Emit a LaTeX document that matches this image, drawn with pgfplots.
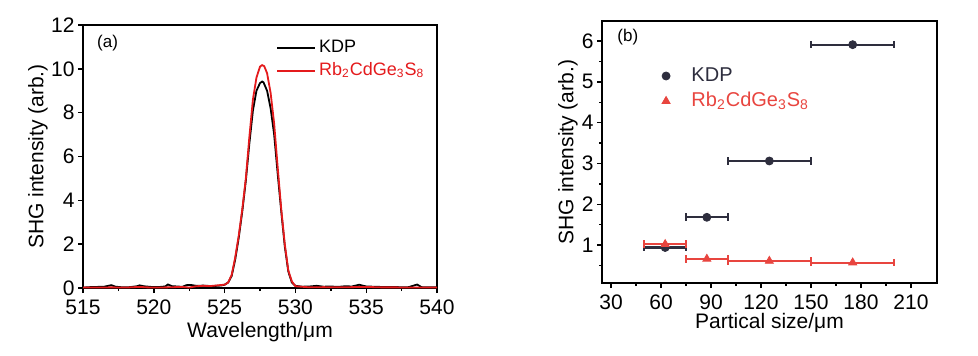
\documentclass[border=0pt]{standalone}
\usepackage{fontspec}
\setmainfont{Liberation Sans}
\usepackage{pgfplots}
\pgfplotsset{compat=1.18}
\definecolor{kdpL}{HTML}{000000}
\definecolor{rbL}{HTML}{E41A1C}
\definecolor{kdpR}{HTML}{2E2E3E}
\definecolor{rbR}{HTML}{E8453F}
\pgfplotsset{
  common/.style={
    scale only axis,
    axis line style={line width=0.9pt},
    tick pos=left, tick align=outside,
    major tick length=2.5pt, minor tick length=1.5pt,
    every tick/.style={line width=0.7pt, black},
    tick label style={font=\fontsize{10.5}{12}\selectfont},
    yticklabel style={inner sep=1.5pt},
    label style={font=\fontsize{10.5}{12}\selectfont},
    /pgf/number format/assume math mode=true,
  },
  kbar/.style={kdpR, line width=1.1pt, mark=|, mark size=1.9pt, mark options={line width=1.1pt}, forget plot},
  rbar/.style={rbR, line width=1.1pt, mark=|, mark size=1.9pt, mark options={line width=1.1pt}, forget plot},
}
\begin{document}
\begin{tikzpicture}
\useasboundingbox (0,0) rectangle (489pt,177.5pt);
% ---------------- (a)
\begin{axis}[common,
  at={(41.5pt,33.5pt)}, anchor=south west,
  width=177pt, height=131.5pt,
  xmin=515, xmax=540, ymin=0, ymax=12,
  xtick={515,520,...,540}, minor xtick={517.5,522.5,...,537.5},
  ytick={0,2,...,12},
  xlabel={Wavelength/μm}, ylabel={SHG intensity (arb.)},
  xlabel style={at={(axis description cs:0.5,-0.167)}, anchor=center},
  ylabel style={at={(axis description cs:-0.127,0.5)}, anchor=center},
  legend style={at={(axis description cs:0.545,0.955)}, anchor=north west,
    draw=none, fill=none, inner sep=0pt, row sep=0.5pt,
    font=\fontsize{9}{10}\selectfont, nodes={inner sep=1.5pt}},
  legend cell align=left,
  legend image code/.code={\draw[#1] (0pt,0pt) -- (19pt,0pt);},
]
\addplot[kdpL, line width=0.9pt] coordinates {
(515,0.02)(515.5,0.04)(516,0.05)(516.5,0.06)(517,0.13)(517.3,0.06)(517.8,0.03)(518.3,0.04)(518.8,0.08)(519,0.12)(519.3,0.08)(519.8,0.05)(520.3,0.04)(520.8,0.07)(521,0.16)(521.3,0.08)(521.7,0.07)(522,0.05)(522.3,0.13)(522.6,0.14)(523,0.1)(523.5,0.11)(524,0.09)(524.5,0.1)(524.8,0.12)
(525,0.15)(525.25,0.25)(525.5,0.55)(525.75,1.3)(526,2.3)(526.25,3.5)(526.5,4.9)(526.75,6.6)(527,8.1)(527.25,9.0)(527.5,9.35)(527.65,9.42)(527.75,9.38)(528,9.0)(528.25,8.2)(528.5,7.0)(528.75,5.2)(529,3.5)(529.25,1.9)(529.5,0.75)(529.75,0.25)
(530,0.1)(530.5,0.06)(531,0.07)(531.5,0.1)(532,0.06)(532.5,0.07)(533,0.05)(533.5,0.08)(534,0.07)(534.5,0.15)(535,0.07)(535.5,0.06)(536,0.05)(536.5,0.04)(537,0.05)(537.5,0.03)(538,0.04)(538.6,0.16)(538.9,0.04)(539.5,0.03)(540,0.04)
};
\addlegendentry{KDP}
\addplot[rbL, line width=0.9pt] coordinates {
(515,0.02)(516,0.02)(517,0.03)(518,0.02)(519,0.05)(519.5,0.03)(520,0.02)(521,0.03)(522,0.05)(522.5,0.02)(523,0.08)(523.5,0.1)(524,0.09)(524.5,0.12)(524.8,0.14)
(525,0.15)(525.25,0.25)(525.5,0.6)(525.75,1.4)(526,2.4)(526.25,3.6)(526.5,5.0)(526.75,6.9)(527,8.6)(527.25,9.6)(527.5,10.1)(527.65,10.17)(527.8,10.12)(528,9.8)(528.25,8.9)(528.5,7.5)(528.75,5.5)(529,3.6)(529.25,2.0)(529.5,0.8)(529.75,0.3)
(530,0.08)(531,0.03)(532,0.04)(533,0.03)(534,0.04)(535,0.05)(536,0.03)(537,0.03)(538,0.02)(539,0.02)(540,0.02)
};
\addlegendentry{\textcolor{rbL}{Rb\textsubscript{2}CdGe\textsubscript{3}S\textsubscript{8}}}
\node[anchor=west, font=\fontsize{8.5}{10}\selectfont] at (axis description cs:0.02,0.93) {(a)};
\end{axis}
% ---------------- (b)
\begin{axis}[common,
  at={(301pt,36pt)}, anchor=south west,
  width=167.5pt, height=131pt,
  xmin=24.6, xmax=225.6, ymin=0.07, ymax=6.49,
  xtick={30,60,...,210}, minor xtick={45,75,...,195},
  ytick={1,...,6}, minor ytick={0.5,1.5,...,6},
  xlabel={Partical size/μm}, ylabel={SHG intensity (arb.)},
  xlabel style={at={(axis description cs:0.5,-0.153)}, anchor=center},
  ylabel style={at={(axis description cs:-0.1015,0.5)}, anchor=center},
  legend style={at={(axis description cs:0.165,0.835)}, anchor=north west,
    draw=none, fill=none, inner sep=0pt, row sep=1pt,
    font=\fontsize{10}{11}\selectfont, nodes={inner sep=1.5pt}},
  legend cell align=left,
  legend image code/.code={\draw[#1] plot coordinates {(4pt,0pt)}; \path (0pt,0pt) (15pt,0pt);},
]
% KDP: size ranges (x-errors) and points
\addplot[kbar] coordinates {(50,0.94)(75,0.94)};
\addplot[kbar] coordinates {(75,1.68)(100,1.68)};
\addplot[kbar] coordinates {(100,3.06)(150,3.06)};
\addplot[kbar] coordinates {(150,5.91)(200,5.91)};
\addplot[kdpR, only marks, mark=*, mark size=2pt, forget plot] coordinates {
(62.5,0.94)(87.5,1.68)(125,3.06)(175,5.91)};
% Rb2CdGe3S8
\addplot[rbar] coordinates {(50,1.02)(75,1.02)};
\addplot[rbar] coordinates {(75,0.66)(100,0.66)};
\addplot[rbar] coordinates {(100,0.61)(150,0.61)};
\addplot[rbar] coordinates {(150,0.57)(200,0.57)};
\addplot[rbR, only marks, mark=triangle*, mark size=2.3pt, forget plot] coordinates {
(62.5,1.02)(87.5,0.66)(125,0.61)(175,0.57)};
\addlegendimage{kdpR, only marks, mark=*, mark size=2pt}
\addlegendentry{\textcolor{kdpR}{KDP}}
\addlegendimage{rbR, only marks, mark=triangle*, mark size=2.3pt}
\addlegendentry{\textcolor{rbR}{Rb\textsubscript{2}CdGe\textsubscript{3}S\textsubscript{8}}}
\node[anchor=west, font=\fontsize{8.5}{10}\selectfont] at (axis description cs:0.025,0.94) {(b)};
\end{axis}
\end{tikzpicture}
\end{document}
